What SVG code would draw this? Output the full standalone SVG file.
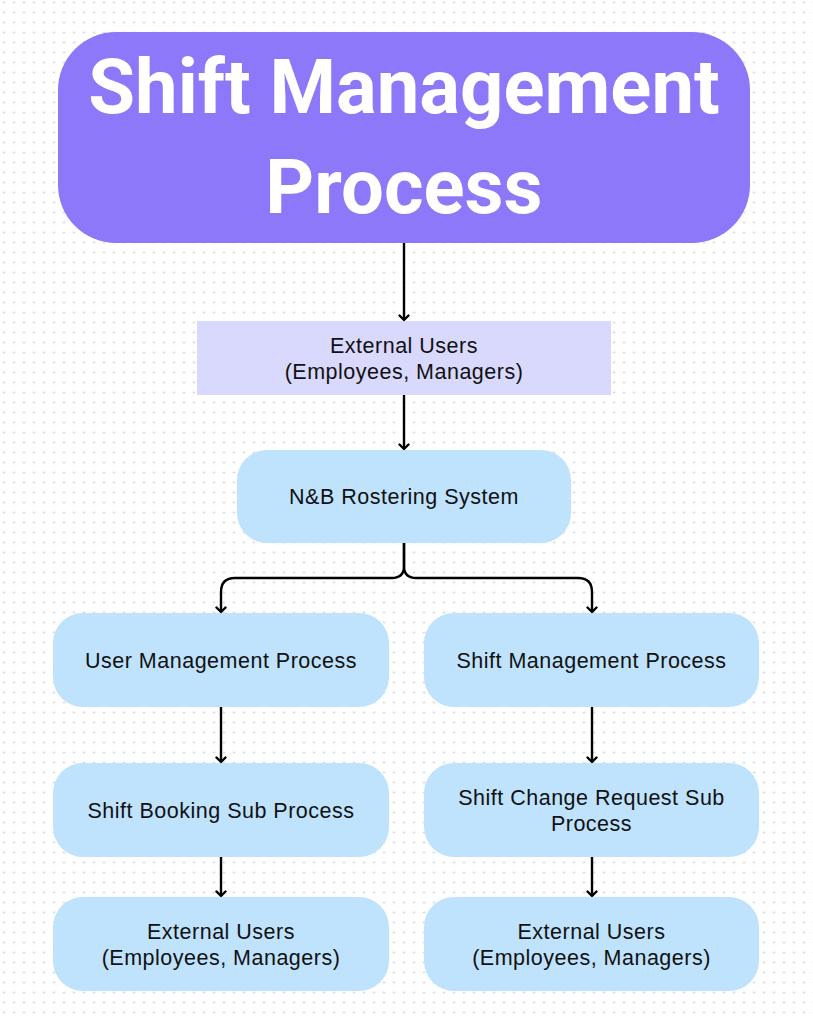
<svg xmlns="http://www.w3.org/2000/svg" width="813" height="1016" viewBox="0 0 813 1016">
<defs>
<pattern id="dots" x="0" y="0" width="10" height="10" patternUnits="userSpaceOnUse">
<path d="M2.5 2.5h3M4 1v3" stroke="#dcdce6" stroke-width="0.9" fill="none"/>
</pattern>
<marker id="arr" markerWidth="12" markerHeight="12" refX="9" refY="6" orient="auto" markerUnits="userSpaceOnUse" viewBox="0 0 12 12">
<path d="M4.5 1.5 L9 6 L4.5 10.5" fill="none" stroke="#000" stroke-width="2.4" stroke-linecap="round" stroke-linejoin="round"/>
</marker>
<style>
.title{font-family:"Roboto","Liberation Sans",sans-serif;font-weight:700;font-size:76px;fill:#ffffff;text-anchor:middle}
.lbl{font-family:"Liberation Sans",Arial,sans-serif;font-size:21.5px;letter-spacing:0.5px;fill:#111;text-anchor:middle}
.node{fill:#bfe3fd}
.conn{fill:none;stroke:#000;stroke-width:2.4;marker-end:url(#arr)}
</style>
</defs>
<rect width="813" height="1016" fill="#ffffff"/>
<rect width="813" height="1016" fill="url(#dots)"/>
<g id="title">
<rect x="58" y="32" width="692" height="211" rx="58" fill="#8c78f8"/>
<text class="title" x="404" y="113">Shift Management</text>
<text class="title" x="404" y="213">Process</text>
</g>
<g id="external-users-top">
<rect x="197" y="321" width="414" height="74" fill="#d9d9fd"/>
<text class="lbl" x="404" y="353">External Users</text>
<text class="lbl" x="404" y="379">(Employees, Managers)</text>
</g>
<g id="rostering">
<rect class="node" x="237" y="450" width="334" height="93" rx="30"/>
<text class="lbl" x="404" y="504">N&amp;B Rostering System</text>
</g>
<g id="user-mgmt">
<rect class="node" x="53" y="613" width="336" height="94" rx="30"/>
<text class="lbl" x="221" y="668">User Management Process</text>
</g>
<g id="shift-mgmt">
<rect class="node" x="424" y="613" width="335" height="94" rx="30"/>
<text class="lbl" x="591.5" y="668">Shift Management Process</text>
</g>
<g id="shift-booking">
<rect class="node" x="53" y="763" width="336" height="94" rx="30"/>
<text class="lbl" x="221" y="818">Shift Booking Sub Process</text>
</g>
<g id="shift-change">
<rect class="node" x="424" y="763" width="335" height="94" rx="30"/>
<text class="lbl" x="591.5" y="805">Shift Change Request Sub</text>
<text class="lbl" x="591.5" y="831">Process</text>
</g>
<g id="external-left">
<rect class="node" x="53" y="897" width="336" height="94" rx="30"/>
<text class="lbl" x="221" y="939">External Users</text>
<text class="lbl" x="221" y="965">(Employees, Managers)</text>
</g>
<g id="external-right">
<rect class="node" x="424" y="897" width="335" height="94" rx="30"/>
<text class="lbl" x="591.5" y="939">External Users</text>
<text class="lbl" x="591.5" y="965">(Employees, Managers)</text>
</g>
<g id="connectors">
<path class="conn" d="M404 243 V320"/>
<path class="conn" d="M404 395 V449"/>
<path class="conn" d="M404 543 V566 Q404 578 392 578 H235 Q221 578 221 592 V612"/>
<path class="conn" d="M404 543 V566 Q404 578 416 578 H578 Q592 578 592 592 V612"/>
<path class="conn" d="M221 707 V762"/>
<path class="conn" d="M592 707 V762"/>
<path class="conn" d="M221 857 V896"/>
<path class="conn" d="M592 857 V896"/>
</g>
</svg>
